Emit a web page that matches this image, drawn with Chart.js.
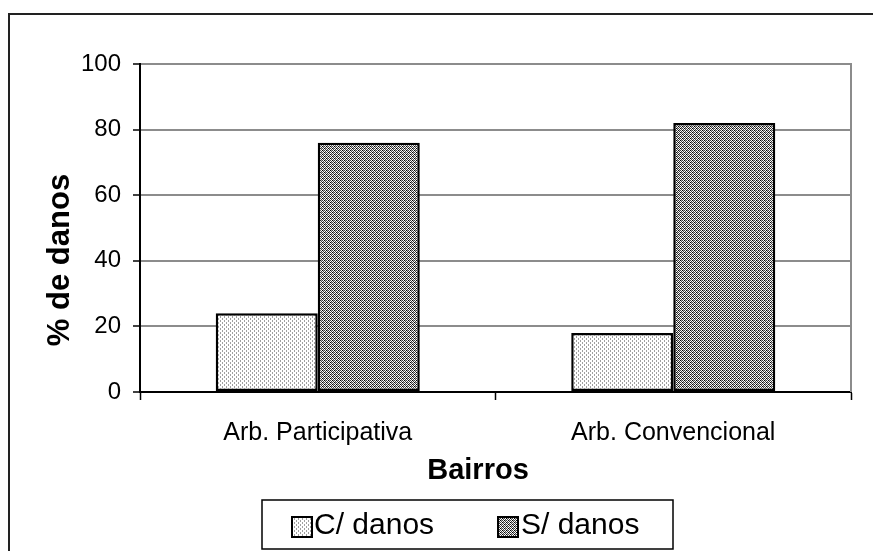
<!DOCTYPE html>
<html>
<head>
<meta charset="utf-8">
<script src="https://cdn.jsdelivr.net/npm/chart.js@4/dist/chart.umd.min.js"></script>
<style>
html,body{margin:0;padding:0;background:#fff;}
canvas{display:block;}
</style>
</head>
<body>
<canvas id="c" width="873" height="551"></canvas>
<script>
const categories = ['Arb. Participativa', 'Arb. Convencional'];
const comDanos = [24, 18];
const semDanos = [76, 82];
const seriesLabels = ['C/ danos', 'S/ danos'];
const yAxisTitle = '% de danos';
const xAxisTitle = 'Bairros';
const yMin = 0, yMax = 100, yStep = 20;

const FONT = '"Liberation Sans", Arial, sans-serif';

function makePattern(kind) {
  const t = document.createElement('canvas');
  t.width = 4; t.height = 4;
  const g = t.getContext('2d');
  g.fillStyle = '#fff';
  g.fillRect(0, 0, 4, 4);
  for (let y = 0; y < 4; y++) {
    for (let x = 0; x < 4; x++) {
      let c = null;
      if (kind === 'light') {
        if ((x === 0 && (y === 0 || y === 1)) || (x === 2 && (y === 2 || y === 3))) c = '#a0a0a0';
      } else {
        if ((x + y) % 2 === 0) c = ((x === 0 && y === 0) || (x === 2 && y === 2)) ? '#000' : '#404040';
        else if ((x === 1 && y === 0) || (x === 3 && y === 2)) c = '#b0b0b0';
      }
      if (c) { g.fillStyle = c; g.fillRect(x, y, 1, 1); }
    }
  }
  return document.getElementById('c').getContext('2d').createPattern(t, 'repeat');
}
const patterns = [makePattern('light'), makePattern('dark')];

const decorPlugin = {
  id: 'decor',
  afterDraw(chart) {
    const ctx = chart.ctx;
    const a = chart.chartArea;
    ctx.save();
    // plot area right border (gray)
    ctx.strokeStyle = '#8c8c8c';
    ctx.lineWidth = 2;
    ctx.beginPath();
    ctx.moveTo(a.right, a.top - 1);
    ctx.lineTo(a.right, a.bottom);
    ctx.stroke();
    // outer frame
    ctx.strokeStyle = '#222';
    ctx.lineWidth = 2;
    ctx.beginPath();
    ctx.moveTo(873, 14);
    ctx.lineTo(9, 14);
    ctx.lineTo(9, 551);
    ctx.stroke();
    // axis titles
    ctx.fillStyle = '#000';
    ctx.textAlign = 'center';
    ctx.textBaseline = 'middle';
    ctx.font = 'bold 29px ' + FONT;
    ctx.fillText(xAxisTitle, 478, 471);
    ctx.save();
    ctx.translate(60, 260);
    ctx.rotate(-Math.PI / 2);
    ctx.font = 'bold 31px ' + FONT;
    ctx.fillText(yAxisTitle, 0, 0);
    ctx.restore();
    // legend
    ctx.strokeStyle = '#000';
    ctx.lineWidth = 1.5;
    ctx.strokeRect(262, 500, 411, 49);
    const items = [{sx: 292, tx: 314}, {sx: 498, tx: 521}];
    chart.data.datasets.forEach((ds, i) => {
      const it = items[i];
      ctx.fillStyle = ds.backgroundColor;
      ctx.fillRect(it.sx, 517, 20, 20);
      ctx.strokeStyle = '#000';
      ctx.lineWidth = 2;
      ctx.strokeRect(it.sx, 517, 20, 20);
      ctx.fillStyle = '#000';
      ctx.font = '30px ' + FONT;
      ctx.textAlign = 'left';
      ctx.textBaseline = 'middle';
      ctx.fillText(ds.label, it.tx, 526);
    });
    ctx.restore();
  }
};

new Chart(document.getElementById('c'), {
  type: 'bar',
  data: {
    labels: categories,
    datasets: [
      { label: seriesLabels[0], data: comDanos, backgroundColor: patterns[0], borderColor: '#000', borderWidth: 2.5, borderSkipped: false },
      { label: seriesLabels[1], data: semDanos, backgroundColor: patterns[1], borderColor: '#000', borderWidth: 2.5, borderSkipped: false }
    ]
  },
  options: {
    responsive: false,
    animation: false,
    devicePixelRatio: 1,
    layout: { padding: { left: 0, top: 64, right: 22, bottom: 59 } },
    datasets: { bar: { categoryPercentage: 0.574, barPercentage: 1.0 } },
    plugins: { legend: { display: false }, tooltip: { enabled: false }, title: { display: false } },
    scales: {
      x: {
        afterFit(s) { s.height = 100; },
        grid: { display: true, drawOnChartArea: false, offset: true, tickLength: 8, tickColor: '#000', tickWidth: 1.5, color: '#000' },
        border: { display: true, color: '#000', width: 2 },
        ticks: { color: '#000', font: { family: FONT, size: 25 }, padding: 18, maxRotation: 0 }
      },
      y: {
        min: yMin, max: yMax,
        afterFit(s) { s.width = 140; },
        grid: { color: '#8c8c8c', lineWidth: 2, tickColor: '#000', tickLength: 7, tickWidth: 1.5 },
        border: { display: true, color: '#000', width: 2 },
        ticks: { stepSize: yStep, color: '#000', font: { family: FONT, size: 24 }, padding: 12 }
      }
    }
  },
  plugins: [decorPlugin]
});
</script>
</body>
</html>
